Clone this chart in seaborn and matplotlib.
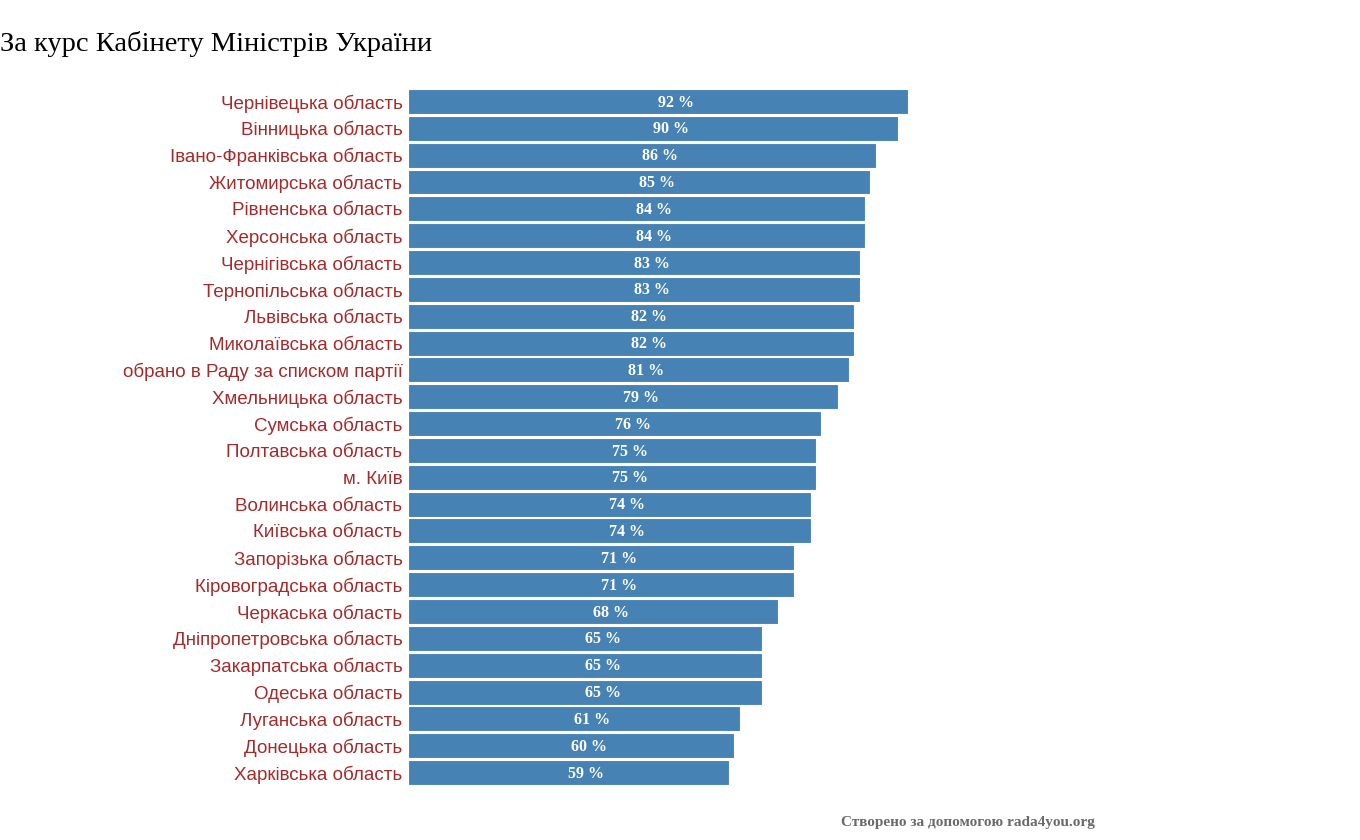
import matplotlib
matplotlib.use("Agg")
import matplotlib.pyplot as plt
import seaborn as sns
import pandas as pd

# дані з діаграми
regions = [
    "Чернівецька область", "Вінницька область", "Івано-Франківська область",
    "Житомирська область", "Рівненська область", "Херсонська область",
    "Чернігівська область", "Тернопільська область", "Львівська область",
    "Миколаївська область", "обрано в Раду за списком партії",
    "Хмельницька область", "Сумська область", "Полтавська область",
    "м. Київ", "Волинська область", "Київська область",
    "Запорізька область", "Кіровоградська область", "Черкаська область",
    "Дніпропетровська область", "Закарпатська область", "Одеська область",
    "Луганська область", "Донецька область", "Харківська область",
]
percents = [92, 90, 86, 85, 84, 84, 83, 83, 82, 82, 81, 79, 76, 75, 75,
            74, 74, 71, 71, 68, 65, 65, 65, 61, 60, 59]

title = "За курс Кабінету Міністрів України"
footer = "Створено за допомогою rada4you.org"

df = pd.DataFrame({"region": regions, "pct": percents})

sns.set_style("white")

fig = plt.figure(figsize=(13.6, 8.4), dpi=100)
ax = fig.add_axes([0.3, 0.0643, 0.4, 0.8309])

sns.barplot(data=df, y="region", x="pct", orient="h", color="#4682b4",
            saturation=1, width=0.93, edgecolor="white", linewidth=0.8, ax=ax)

ax.set_xlim(0, 100)
ax.set_ylim(len(regions) - 0.5, -0.5)
ax.set_xlabel("")
ax.set_ylabel("")
ax.set_xticks([])
for s in ax.spines.values():
    s.set_visible(False)
ax.tick_params(axis="y", length=0, pad=4)
for lbl in ax.get_yticklabels():
    lbl.set_fontfamily("Liberation Sans")
    lbl.set_fontsize(13.5)
    lbl.set_color("#a52a2a")

# підписи значень всередині смуг
for i, v in enumerate(percents):
    ax.text(v / 2, i + 0.04, f"{v} %", ha="left", va="center", color="white",
            fontsize=11.5, fontweight="bold", family="Liberation Serif")

fig.text(0.0, 0.948, title, ha="left", va="center", fontsize=20.5,
         family="Liberation Serif", color="black")
fig.text(0.805, 0.021, footer, ha="right", va="center", fontsize=11,
         fontweight="bold", family="Liberation Serif", color="#6a6a6a")

fig.savefig("out.png", dpi=100)
